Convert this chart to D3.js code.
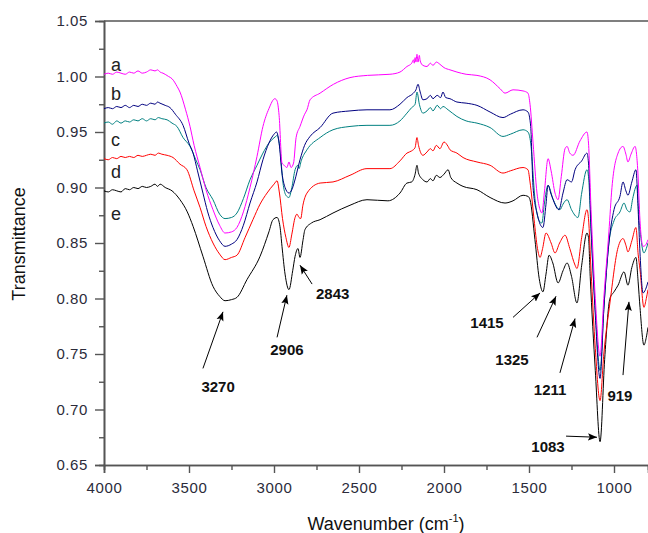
<!DOCTYPE html>
<html>
<head>
<meta charset="utf-8">
<script src="https://cdn.jsdelivr.net/npm/d3@7"></script>
<style>
  body { margin: 0; background: #fff; }
  svg { display: block; font-family: Arial, "Liberation Sans", sans-serif; }
</style>
</head>
<body>
<div id="chart"></div>
<script>
// spectra: [wavenumber, transmittance]
var seriesA = [[4000,1.002],[3975,1.003],[3950,1.002],[3925,1.004],[3900,1.003],[3875,1.002],[3850,1.004],[3825,1.003],[3800,1.005],[3775,1.003],[3750,1.004],[3725,1.006],[3700,1.005],[3685,1.006],[3670,1.004],[3653,1.003],[3620,1.000],[3600,0.998],[3570,0.991],[3553,0.986],[3520,0.970],[3494,0.955],[3470,0.938],[3435,0.918],[3400,0.898],[3359,0.880],[3320,0.866],[3288,0.859],[3250,0.860],[3218,0.864],[3180,0.878],[3141,0.900],[3100,0.928],[3065,0.955],[3030,0.971],[2995,0.980],[2982,0.978],[2970,0.965],[2953,0.922],[2940,0.920],[2924,0.918],[2912,0.923],[2900,0.918],[2885,0.922],[2870,0.945],[2847,0.955],[2820,0.966],[2806,0.970],[2788,0.979],[2729,0.985],[2650,0.993],[2553,0.999],[2450,1.001],[2318,1.002],[2259,1.004],[2218,1.009],[2190,1.012],[2180,1.015],[2175,1.012],[2170,1.017],[2165,1.013],[2159,1.020],[2153,1.013],[2145,1.019],[2140,1.014],[2124,1.010],[2100,1.009],[2080,1.012],[2065,1.010],[2045,1.013],[2024,1.011],[2000,1.008],[1965,1.006],[1924,1.004],[1870,1.002],[1806,1.001],[1729,0.997],[1670,0.989],[1641,0.985],[1594,0.988],[1535,0.987],[1506,0.985],[1494,0.975],[1476,0.940],[1453,0.895],[1435,0.880],[1424,0.877],[1410,0.895],[1388,0.926],[1370,0.915],[1347,0.895],[1329,0.889],[1310,0.910],[1288,0.935],[1276,0.937],[1260,0.931],[1241,0.929],[1200,0.942],[1159,0.950],[1150,0.940],[1135,0.880],[1110,0.800],[1082,0.748],[1060,0.800],[1030,0.860],[1012,0.900],[976,0.931],[947,0.937],[930,0.930],[918,0.923],[900,0.930],[876,0.937],[860,0.915],[847,0.870],[829,0.847],[815,0.848],[800,0.853]];

var seriesB = [[4000,0.971],[3975,0.972],[3950,0.971],[3925,0.973],[3900,0.972],[3875,0.974],[3850,0.972],[3825,0.974],[3800,0.973],[3775,0.975],[3750,0.974],[3725,0.976],[3700,0.975],[3685,0.977],[3671,0.976],[3640,0.974],[3612,0.972],[3580,0.966],[3535,0.956],[3500,0.940],[3476,0.931],[3450,0.915],[3418,0.895],[3390,0.878],[3359,0.864],[3320,0.852],[3288,0.847],[3250,0.849],[3218,0.853],[3180,0.866],[3141,0.886],[3100,0.905],[3065,0.925],[3030,0.940],[3000,0.948],[2985,0.950],[2970,0.940],[2953,0.913],[2935,0.900],[2912,0.895],[2895,0.898],[2880,0.905],[2847,0.925],[2820,0.938],[2788,0.946],[2729,0.954],[2653,0.967],[2553,0.969],[2453,0.970],[2318,0.970],[2259,0.975],[2218,0.981],[2180,0.985],[2165,0.988],[2153,0.993],[2140,0.986],[2124,0.979],[2100,0.980],[2080,0.983],[2065,0.980],[2040,0.983],[2020,0.981],[2006,0.986],[1990,0.981],[1965,0.980],[1924,0.977],[1870,0.976],[1806,0.974],[1729,0.968],[1653,0.963],[1610,0.966],[1535,0.970],[1506,0.968],[1490,0.955],[1476,0.900],[1450,0.875],[1418,0.864],[1400,0.885],[1388,0.902],[1370,0.894],[1324,0.880],[1300,0.895],[1276,0.907],[1250,0.905],[1229,0.916],[1190,0.924],[1159,0.931],[1150,0.922],[1135,0.865],[1110,0.785],[1082,0.728],[1060,0.790],[1030,0.850],[1000,0.880],[965,0.892],[947,0.905],[930,0.897],[918,0.893],[895,0.905],[871,0.916],[858,0.880],[847,0.841],[829,0.805],[815,0.808],[800,0.815]];

var seriesC = [[4000,0.958],[3975,0.959],[3950,0.957],[3925,0.960],[3900,0.958],[3875,0.960],[3850,0.959],[3825,0.961],[3800,0.960],[3775,0.962],[3750,0.960],[3725,0.962],[3700,0.961],[3680,0.963],[3660,0.962],[3629,0.961],[3600,0.958],[3571,0.955],[3535,0.945],[3494,0.937],[3460,0.925],[3435,0.916],[3400,0.900],[3359,0.889],[3320,0.876],[3288,0.872],[3250,0.873],[3218,0.877],[3180,0.890],[3141,0.907],[3100,0.920],[3065,0.931],[3030,0.940],[2990,0.946],[2982,0.947],[2965,0.935],[2947,0.904],[2930,0.893],[2912,0.891],[2895,0.900],[2876,0.916],[2860,0.920],[2853,0.917],[2840,0.924],[2806,0.934],[2729,0.945],[2653,0.952],[2553,0.955],[2453,0.956],[2318,0.956],[2259,0.960],[2218,0.967],[2190,0.972],[2170,0.975],[2159,0.986],[2145,0.975],[2124,0.967],[2100,0.969],[2080,0.972],[2065,0.969],[2040,0.974],[2020,0.971],[2006,0.973],[1976,0.970],[1924,0.964],[1870,0.960],[1806,0.958],[1729,0.954],[1653,0.946],[1610,0.948],[1535,0.952],[1506,0.950],[1490,0.940],[1465,0.890],[1440,0.870],[1424,0.868],[1410,0.885],[1388,0.902],[1360,0.890],[1318,0.880],[1300,0.885],[1276,0.889],[1250,0.880],[1212,0.873],[1190,0.895],[1159,0.916],[1150,0.910],[1135,0.860],[1110,0.790],[1082,0.735],[1060,0.790],[1030,0.850],[1000,0.870],[965,0.878],[941,0.886],[924,0.880],[906,0.878],[890,0.890],[865,0.902],[852,0.870],[847,0.862],[824,0.841],[810,0.845],[800,0.850]];

var seriesD = [[4000,0.926],[3975,0.925],[3950,0.927],[3925,0.926],[3900,0.928],[3875,0.927],[3850,0.928],[3825,0.927],[3800,0.929],[3775,0.928],[3750,0.929],[3725,0.930],[3700,0.929],[3680,0.931],[3660,0.930],[3629,0.929],[3594,0.927],[3553,0.921],[3512,0.916],[3470,0.897],[3435,0.882],[3400,0.865],[3359,0.850],[3320,0.840],[3288,0.835],[3250,0.837],[3218,0.839],[3170,0.855],[3124,0.871],[3082,0.885],[3041,0.895],[3000,0.903],[2982,0.906],[2968,0.895],[2950,0.872],[2930,0.855],[2912,0.846],[2895,0.858],[2876,0.873],[2865,0.876],[2853,0.873],[2843,0.872],[2830,0.884],[2806,0.895],[2729,0.904],[2653,0.905],[2553,0.911],[2453,0.917],[2318,0.917],[2259,0.924],[2218,0.931],[2190,0.933],[2170,0.936],[2159,0.945],[2150,0.938],[2124,0.929],[2100,0.932],[2080,0.935],[2065,0.933],[2045,0.938],[2024,0.935],[2000,0.941],[1976,0.937],[1965,0.934],[1924,0.931],[1888,0.927],[1806,0.923],[1729,0.920],[1653,0.913],[1610,0.915],[1535,0.918],[1506,0.916],[1494,0.905],[1470,0.871],[1450,0.845],[1435,0.837],[1420,0.845],[1400,0.859],[1370,0.850],[1347,0.841],[1320,0.850],[1288,0.857],[1260,0.845],[1229,0.830],[1218,0.827],[1190,0.855],[1159,0.880],[1150,0.872],[1135,0.825],[1110,0.755],[1082,0.708],[1060,0.750],[1024,0.796],[976,0.846],[947,0.854],[930,0.848],[918,0.842],[895,0.852],[871,0.864],[858,0.840],[847,0.826],[824,0.792],[810,0.800],[800,0.808]];

var seriesE = [[4000,0.897],[3975,0.896],[3950,0.898],[3925,0.897],[3900,0.896],[3875,0.899],[3850,0.898],[3825,0.900],[3800,0.899],[3775,0.901],[3750,0.900],[3725,0.901],[3700,0.903],[3685,0.901],[3670,0.903],[3640,0.900],[3600,0.897],[3553,0.889],[3510,0.878],[3476,0.865],[3418,0.838],[3359,0.811],[3320,0.802],[3288,0.798],[3250,0.799],[3218,0.801],[3159,0.817],[3082,0.838],[3030,0.860],[3006,0.871],[2982,0.873],[2965,0.865],[2953,0.847],[2935,0.822],[2912,0.808],[2890,0.825],[2876,0.838],[2859,0.845],[2847,0.837],[2830,0.852],[2818,0.862],[2780,0.868],[2729,0.871],[2653,0.877],[2553,0.884],[2453,0.889],[2330,0.888],[2259,0.895],[2218,0.904],[2190,0.905],[2170,0.912],[2159,0.920],[2150,0.913],[2124,0.907],[2100,0.905],[2080,0.908],[2065,0.906],[2045,0.911],[2024,0.909],[2000,0.912],[1976,0.916],[1960,0.909],[1924,0.904],[1888,0.901],[1806,0.898],[1729,0.891],[1641,0.886],[1594,0.888],[1535,0.893],[1506,0.892],[1494,0.889],[1465,0.853],[1440,0.818],[1418,0.806],[1400,0.822],[1382,0.839],[1360,0.832],[1329,0.814],[1300,0.825],[1276,0.832],[1250,0.820],[1218,0.796],[1190,0.830],[1159,0.859],[1150,0.855],[1140,0.820],[1110,0.735],[1082,0.671],[1055,0.745],[1024,0.800],[1000,0.806],[976,0.812],[941,0.824],[918,0.812],[895,0.828],[871,0.837],[858,0.815],[847,0.792],[824,0.758],[810,0.765],[800,0.774]];

var curveNames = ["a", "b", "c", "d", "e"];
var curveColors = ["#ff00ff", "#000080", "#008080", "#ff0000", "#000000"];
// where each curve letter sits (wavenumber, transmittance of baseline)
var nameSpots = [[3959, 1.005], [3959, 0.979], [3959, 0.937], [3959, 0.909], [3959, 0.871]];

var xTicks = [4000, 3500, 3000, 2500, 2000, 1500, 1000];
var xMinor = [3750, 3250, 2750, 2250, 1750, 1250, 750];
var yTicks = [0.65, 0.70, 0.75, 0.80, 0.85, 0.90, 0.95, 1.00, 1.05];
var yMinor = [0.675, 0.725, 0.775, 0.825, 0.875, 0.925, 0.975, 1.025];

// peak labels: text, label spot, arrow tail, arrow tip
var peakLabels = ["3270", "2906", "2843", "1415", "1325", "1211", "919", "1083"];
var peakText = [[3329, 0.716], [2924, 0.749], [2753, 0.800], [1747, 0.773], [1600, 0.740], [1376, 0.713], [965, 0.708], [1388, 0.662]];
var arrowFrom = [[3418, 0.737], [2982, 0.765], [2776, 0.813], [1594, 0.783], [1453, 0.765], [1318, 0.733], [947, 0.731], [1282, 0.676]];
var arrowTo = [[3300, 0.788], [2924, 0.803], [2847, 0.830], [1435, 0.805], [1341, 0.802], [1229, 0.782], [912, 0.797], [1100, 0.675]];

var svgWidth = 648;
var svgHeight = 533;
var margin = {top: 21, right: 0, bottom: 68, left: 104};
var width = svgWidth - margin.left - margin.right;
var height = svgHeight - margin.top - margin.bottom;

var svg = d3.select("#chart")
  .append("svg")
  .attr("width", svgWidth)
  .attr("height", svgHeight);

var g = svg.append("g")
  .attr("transform", `translate(${margin.left}, ${margin.top})`);

var xScale = d3.scaleLinear().domain([4000, 800]).range([0, width]);
var yScale = d3.scaleLinear().domain([0.65, 1.05]).range([height, 0]);

svg.append("defs").append("clipPath").attr("id", "clip")
  .append("rect").attr("width", width).attr("height", height);

// arrow head
svg.select("defs").append("marker")
  .attr("id", "head")
  .attr("viewBox", "0 0 10 10")
  .attr("refX", 10).attr("refY", 5)
  .attr("markerWidth", 9).attr("markerHeight", 9)
  .attr("markerUnits", "userSpaceOnUse")
  .attr("orient", "auto")
  .append("path")
  .attr("d", "M0,1 L10,5 L0,9 L2,5 Z")
  .attr("fill", "#000");

// axes
var axisColor = "#555";

g.append("g")
  .attr("transform", `translate(0, ${height})`)
  .call(d3.axisBottom(xScale).tickValues(xMinor).tickSize(5).tickFormat(""));
g.append("g")
  .attr("transform", `translate(0, ${height})`)
  .call(d3.axisBottom(xScale).tickValues(xTicks).tickSize(8).tickPadding(9).tickFormat(d3.format("d")));

g.append("g")
  .call(d3.axisLeft(yScale).tickValues(yMinor).tickSize(5).tickFormat(""));
g.append("g")
  .call(d3.axisLeft(yScale).tickValues(yTicks).tickSize(9).tickPadding(7).tickFormat(d3.format(".2f")));

g.selectAll(".domain").attr("stroke", axisColor).attr("stroke-width", 1.6);
g.selectAll(".tick line").attr("stroke", axisColor).attr("stroke-width", 1.4);
g.selectAll(".tick text")
  .attr("fill", "#2b2b3a")
  .style("font-size", "15px")
  .style("letter-spacing", "0.6px")
  .style("font-family", "Arial, 'Liberation Sans', sans-serif");

// top frame line
g.append("line")
  .attr("x1", 0).attr("x2", width)
  .attr("y1", 0).attr("y2", 0)
  .attr("stroke", axisColor).attr("stroke-width", 1.6);

// spectra, e drawn first so a sits on top
var allSeries = [seriesA, seriesB, seriesC, seriesD, seriesE];
var line = d3.line()
  .x(d => xScale(d[0]))
  .y(d => yScale(d[1]))
  .curve(d3.curveMonotoneX);

var plot = g.append("g").attr("clip-path", "url(#clip)");
for (var i = allSeries.length - 1; i >= 0; i--) {
  plot.append("path")
    .datum(allSeries[i])
    .attr("d", line)
    .attr("fill", "none")
    .attr("stroke", curveColors[i])
    .attr("stroke-width", 1);
}

// curve letters
g.selectAll(".name")
  .data(curveNames)
  .enter()
  .append("text")
  .text(d => d)
  .attr("x", (d, i) => xScale(nameSpots[i][0]))
  .attr("y", (d, i) => yScale(nameSpots[i][1]))
  .style("font-size", "18px")
  .attr("fill", "#222");

// peak arrows and labels
g.selectAll(".arrow")
  .data(peakLabels)
  .enter()
  .append("line")
  .attr("x1", (d, i) => xScale(arrowFrom[i][0]))
  .attr("y1", (d, i) => yScale(arrowFrom[i][1]))
  .attr("x2", (d, i) => xScale(arrowTo[i][0]))
  .attr("y2", (d, i) => yScale(arrowTo[i][1]))
  .attr("stroke", "#000")
  .attr("stroke-width", 1)
  .attr("marker-end", "url(#head)");

g.selectAll(".peak")
  .data(peakLabels)
  .enter()
  .append("text")
  .text(d => d)
  .attr("x", (d, i) => xScale(peakText[i][0]))
  .attr("y", (d, i) => yScale(peakText[i][1]))
  .style("text-anchor", (d, i) => i == 2 ? "start" : "middle")
  .style("font-size", "15px")
  .style("font-weight", "bold")
  .attr("fill", "#111");

// axis titles
svg.append("text")
  .attr("transform", "translate(25, 244) rotate(-90)")
  .style("text-anchor", "middle")
  .style("font-size", "18px")
  .attr("fill", "#111")
  .text("Transmittance");

var xTitle = svg.append("text")
  .attr("x", 386)
  .attr("y", 530)
  .style("text-anchor", "middle")
  .style("font-size", "18px")
  .attr("fill", "#111");
xTitle.append("tspan").text("Wavenumber (cm");
xTitle.append("tspan").attr("dy", -8).style("font-size", "11px").text("-1");
xTitle.append("tspan").attr("dy", 8).text(")");
</script>
</body>
</html>
